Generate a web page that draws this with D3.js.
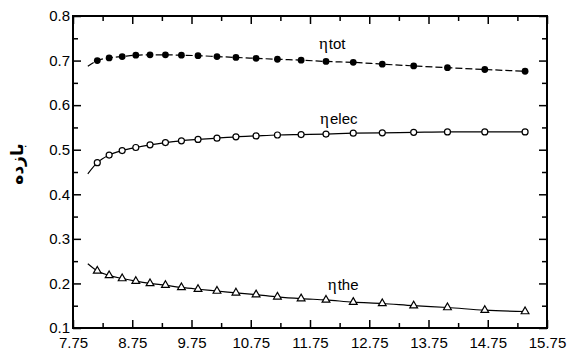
<!DOCTYPE html>
<html><head><meta charset="utf-8">
<script src="https://cdn.jsdelivr.net/npm/d3@7"></script>
<style>
html,body{margin:0;padding:0;background:#fff;}
svg{display:block;}
</style>
</head><body>
<svg id="chart" width="568" height="354"></svg>
<script>
// ---- data ----
const xValues = [8.16, 8.36, 8.58, 8.81, 9.05, 9.31, 9.58, 9.86, 10.18, 10.50, 10.84, 11.20, 11.60, 12.02, 12.48, 12.97, 13.50, 14.07, 14.70, 15.38];
const etaTot  = [0.700, 0.706, 0.709, 0.712, 0.713, 0.713, 0.712, 0.711, 0.709, 0.707, 0.705, 0.703, 0.701, 0.698, 0.696, 0.692, 0.688, 0.684, 0.680, 0.676];
const etaElec = [0.471, 0.488, 0.498, 0.505, 0.511, 0.516, 0.520, 0.523, 0.526, 0.529, 0.531, 0.533, 0.534, 0.535, 0.537, 0.538, 0.539, 0.540, 0.540, 0.540];
const etaThe  = [0.228, 0.218, 0.211, 0.205, 0.200, 0.196, 0.191, 0.187, 0.183, 0.179, 0.175, 0.170, 0.166, 0.163, 0.158, 0.155, 0.150, 0.146, 0.140, 0.137];
// fitted curve start (left end of each line)
const curveStartX = 8.0;
const curveStartTot = 0.687;
const curveStartElec = 0.446;
const curveStartThe = 0.244;
const xMajorTicks = [7.75, 8.75, 9.75, 10.75, 11.75, 12.75, 13.75, 14.75, 15.75];
const xMinorTicks = [8.25, 9.25, 10.25, 11.25, 12.25, 13.25, 14.25, 15.25];
const yMajorTicks = [0.1, 0.2, 0.3, 0.4, 0.5, 0.6, 0.7, 0.8];
const yMinorTicks = [0.15, 0.25, 0.35, 0.45, 0.55, 0.65, 0.75];
const yTitle = "بازده";
const seriesLabels = [
  {sub: "tot", x: 11.90, y: 0.726},
  {sub: "elec", x: 11.92, y: 0.5585},
  {sub: "the", x: 12.05, y: 0.1855}
];

// ---- layout ----
const W = 568, H = 354;
const m = {left: 73, top: 16, right: 21, bottom: 26};
const svg = d3.select("#chart");
const x = d3.scaleLinear().domain([7.75, 15.75]).range([m.left, W - m.right]);
const y = d3.scaleLinear().domain([0.1, 0.8]).range([H - m.bottom, m.top]);
const font = "'Liberation Sans', Arial, sans-serif";

function styleAxis(g){
  g.select(".domain").remove();
  g.selectAll(".tick line").attr("stroke", "#000").attr("stroke-width", 1.5);
  g.selectAll("text").attr("font-family", font).attr("font-size", 15).attr("fill", "#000");
}

// bottom
svg.append("g").attr("transform", `translate(0,${H - m.bottom})`)
  .call(d3.axisBottom(x).tickValues(xMajorTicks).tickSize(-8).tickPadding(9).tickFormat(d3.format(".2f")))
  .call(styleAxis);
svg.append("g").attr("transform", `translate(0,${H - m.bottom})`)
  .call(d3.axisBottom(x).tickValues(xMinorTicks).tickSize(-5).tickFormat(""))
  .call(styleAxis);
// top
svg.append("g").attr("transform", `translate(0,${m.top})`)
  .call(d3.axisTop(x).tickValues(xMajorTicks).tickSize(-8).tickFormat(""))
  .call(styleAxis);
svg.append("g").attr("transform", `translate(0,${m.top})`)
  .call(d3.axisTop(x).tickValues(xMinorTicks).tickSize(-5).tickFormat(""))
  .call(styleAxis);
// left
svg.append("g").attr("transform", `translate(${m.left},0)`)
  .call(d3.axisLeft(y).tickValues(yMajorTicks).tickSize(-8).tickPadding(3).tickFormat(d3.format(".1f")))
  .call(styleAxis);
svg.append("g").attr("transform", `translate(${m.left},0)`)
  .call(d3.axisLeft(y).tickValues(yMinorTicks).tickSize(-5).tickFormat(""))
  .call(styleAxis);
// right
svg.append("g").attr("transform", `translate(${W - m.right},0)`)
  .call(d3.axisRight(y).tickValues(yMajorTicks).tickSize(-8).tickFormat(""))
  .call(styleAxis);
svg.append("g").attr("transform", `translate(${W - m.right},0)`)
  .call(d3.axisRight(y).tickValues(yMinorTicks).tickSize(-5).tickFormat(""))
  .call(styleAxis);

// frame
svg.append("rect")
  .attr("x", m.left).attr("y", m.top)
  .attr("width", W - m.left - m.right).attr("height", H - m.top - m.bottom)
  .attr("fill", "none").attr("stroke", "#000").attr("stroke-width", 2);

// lines
const line = d3.line().x(d => x(d[0])).y(d => y(d[1])).curve(d3.curveMonotoneX);
function seriesPts(vals, start){
  return [[curveStartX, start]].concat(xValues.map((v, i) => [v, vals[i]]));
}
svg.append("path").attr("d", line(seriesPts(etaTot, curveStartTot)))
  .attr("fill", "none").attr("stroke", "#000").attr("stroke-width", 1.2).attr("stroke-dasharray", "7,3");
svg.append("path").attr("d", line(seriesPts(etaElec, curveStartElec)))
  .attr("fill", "none").attr("stroke", "#000").attr("stroke-width", 1.2);
svg.append("path").attr("d", line(seriesPts(etaThe, curveStartThe)))
  .attr("fill", "none").attr("stroke", "#000").attr("stroke-width", 1.2);

// markers
svg.append("g").selectAll("circle").data(xValues).join("circle")
  .attr("cx", d => x(d)).attr("cy", (d, i) => y(etaTot[i])).attr("r", 3.4).attr("fill", "#000");
svg.append("g").selectAll("circle").data(xValues).join("circle")
  .attr("cx", d => x(d)).attr("cy", (d, i) => y(etaElec[i])).attr("r", 3)
  .attr("fill", "#fff").attr("stroke", "#000").attr("stroke-width", 1.2);
const tri = d3.symbol().type(d3.symbolTriangle).size(26);
svg.append("g").selectAll("path").data(xValues).join("path")
  .attr("d", tri).attr("transform", (d, i) => `translate(${x(d)},${y(etaThe[i])})`)
  .attr("fill", "#fff").attr("stroke", "#000").attr("stroke-width", 1.2);

// series labels
seriesLabels.forEach(l => {
  const t = svg.append("text").attr("x", x(l.x)).attr("y", y(l.y)).attr("fill", "#000");
  t.append("tspan").attr("font-family", "'Liberation Serif', 'Times New Roman', serif").attr("font-size", 17).text("η");
  t.append("tspan").attr("font-family", font).attr("font-size", 15).attr("dx", 1).text(l.sub);
});

// y-axis title
svg.append("text")
  .attr("transform", `translate(23,164) rotate(-90)`)
  .attr("text-anchor", "middle")
  .attr("font-family", "'DejaVu Sans', 'Noto Sans', sans-serif")
  .attr("font-weight", "bold").attr("font-size", 17).attr("fill", "#000")
  .text(yTitle);
</script>
</body></html>
